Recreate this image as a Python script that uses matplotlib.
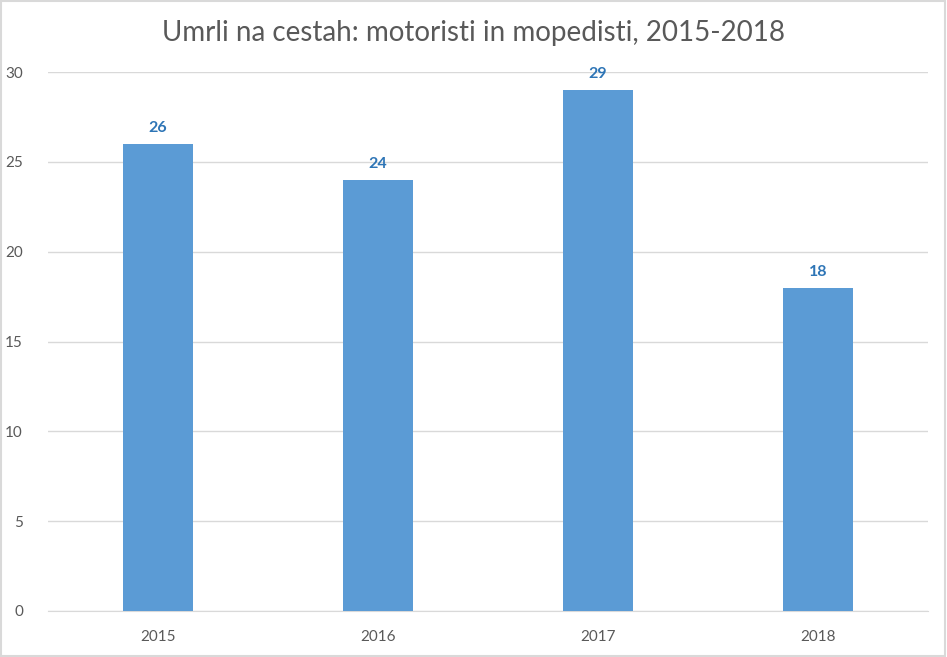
import matplotlib.pyplot as plt

# Umrli na cestah: motoristi in mopedisti
years = ['2015', '2016', '2017', '2018']
deaths = [26, 24, 29, 18]
yticks = [0, 5, 10, 15, 20, 25, 30]

plt.rcParams['font.family'] = ['Lato', 'DejaVu Sans']

fig = plt.figure(figsize=(9.47, 6.57), dpi=100)
ax = fig.add_axes([48 / 947, 46 / 657, 880 / 947, 539 / 657])

x = range(len(years))
bars = ax.bar(x, deaths, width=0.318, color='#5B9BD5', zorder=3)

for xi, v in zip(x, deaths):
    ax.text(xi, v + 0.5, str(v), ha='center', va='bottom',
            fontsize=11.5, fontweight='bold', color='#2E75B6')

ax.set_xlim(-0.5, len(years) - 0.5)
ax.set_ylim(0, 30)
ax.set_yticks(yticks)
ax.set_xticks(list(x))
ax.set_xticklabels(years)
ax.grid(axis='y', color='#D9D9D9', linewidth=1, zorder=0)
ax.tick_params(axis='both', length=0, labelsize=11, labelcolor='#595959')
ax.tick_params(axis='x', pad=14)
ax.tick_params(axis='y', pad=18)
for side in ['top', 'right', 'left']:
    ax.spines[side].set_visible(False)
ax.spines['bottom'].set_color('#D9D9D9')

fig.text(0.5, 1 - 33 / 657, 'Umrli na cestah: motoristi in mopedisti, 2015-2018',
         ha='center', va='center', fontsize=20, color='#595959')

# outer border
fig.patches.append(plt.Rectangle((0.001, 0.001), 0.997, 0.997, transform=fig.transFigure,
                                 fill=False, edgecolor='#D9D9D9', linewidth=1.5))

fig.savefig('out.png', dpi=100)
